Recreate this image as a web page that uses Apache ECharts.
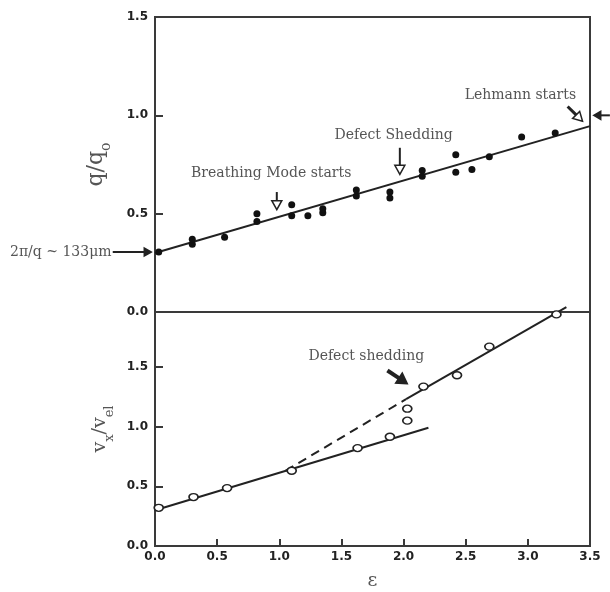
<!DOCTYPE html>
<html>
<head>
<meta charset="utf-8">
<script src="https://cdn.jsdelivr.net/npm/echarts@6/dist/echarts.min.js"></script>
<style>html,body{margin:0;padding:0;background:#fff;}#c{width:610px;height:592px;}</style>
</head>
<body>
<div id="c"></div>
<script>
// ---- data ----
const qEps  = [0.03, 0.30, 0.30, 0.56, 0.82, 0.82, 1.10, 1.10, 1.23, 1.35, 1.35, 1.62, 1.62, 1.89, 1.89, 2.15, 2.15, 2.42, 2.42, 2.55, 2.69, 2.95, 3.22];
const qVals = [0.305, 0.345, 0.37, 0.38, 0.46, 0.50, 0.49, 0.545, 0.49, 0.505, 0.525, 0.59, 0.62, 0.58, 0.61, 0.69, 0.72, 0.71, 0.80, 0.725, 0.79, 0.89, 0.91];
const qFitEps  = [0.0, 3.5];
const qFitVals = [0.30, 0.945];

const vEps  = [0.03, 0.31, 0.58, 1.10, 1.63, 1.89, 2.03, 2.03, 2.16, 2.43, 2.69, 3.23];
const vVals = [0.32, 0.41, 0.485, 0.63, 0.82, 0.915, 1.05, 1.15, 1.335, 1.43, 1.67, 1.94];
const vLowEps   = [0.0, 2.2];
const vLowVals  = [0.30, 0.99];
const vDashEps  = [1.05, 2.02];
const vDashVals = [0.63, 1.23];
const vHighEps  = [2.02, 3.31];
const vHighVals = [1.23, 2.0];

const xTicks = [0, 0.5, 1.0, 1.5, 2.0, 2.5, 3.0, 3.5];
const yTicksTop = [0, 0.5, 1.0, 1.5];
const yTicksBottom = [0, 0.5, 1.0, 1.5];

const zip = (a, b) => a.map((v, i) => [v, b[i]]);

const AX = '#3a3a3a';
const TXT = '#555';
const SERIF = '"DejaVu Serif", "Liberation Serif", serif';
const tickLabel = {color: '#222', fontFamily: '"DejaVu Sans", sans-serif', fontWeight: 'bold', fontSize: 12};

function onTicks(list) {
  return v => list.some(t => Math.abs(t - v) < 1e-6) ? v.toFixed(1) : '';
}

const chart = echarts.init(document.getElementById('c'), null, {renderer: 'canvas'});

const option = {
  animation: false,
  backgroundColor: '#fff',
  grid: [
    {left: 155, right: 20, top: 17, height: 295, show: true, borderColor: AX, borderWidth: 2},
    {left: 155, right: 20, top: 312, height: 235, show: true, borderColor: AX, borderWidth: 2}
  ],
  xAxis: [
    {gridIndex: 0, type: 'value', min: xTicks[0], max: xTicks[xTicks.length - 1], interval: 0.5,
     axisLine: {show: true, lineStyle: {color: AX, width: 2}}, axisTick: {show: false},
     axisLabel: {show: false}, splitLine: {show: false}},
    {gridIndex: 1, type: 'value', min: xTicks[0], max: xTicks[xTicks.length - 1], interval: 0.5,
     axisLine: {show: true, onZero: false, lineStyle: {color: AX, width: 2}},
     axisTick: {show: true, inside: true, length: 7, lineStyle: {color: AX, width: 2}},
     axisLabel: Object.assign({margin: 5, formatter: onTicks(xTicks)}, tickLabel),
     splitLine: {show: false},
     name: 'ε', nameLocation: 'middle', nameGap: 26,
     nameTextStyle: {fontFamily: SERIF, fontSize: 19, color: TXT}}
  ],
  yAxis: [
    {gridIndex: 0, type: 'value', min: 0, max: 1.5, interval: 0.5,
     axisLine: {show: true, onZero: false, lineStyle: {color: AX, width: 2}},
     axisTick: {show: true, inside: true, length: 8, lineStyle: {color: AX, width: 2}},
     axisLabel: Object.assign({margin: 7, formatter: onTicks(yTicksTop)}, tickLabel),
     splitLine: {show: false},
     name: '{a|q/q}{b|o}', nameLocation: 'middle', nameRotate: 90, nameGap: 48,
     nameTextStyle: {color: TXT, rich: {
       a: {fontFamily: SERIF, fontSize: 22, color: TXT, lineHeight: 26, verticalAlign: 'bottom'},
       b: {fontFamily: SERIF, fontSize: 14, color: TXT, verticalAlign: 'bottom', padding: [0, 0, -6, 0]}
     }}},
    {gridIndex: 1, type: 'value', min: 0, max: 1.96, interval: 0.5,
     axisLine: {show: true, onZero: false, lineStyle: {color: AX, width: 2}},
     axisTick: {show: true, inside: true, length: 8, lineStyle: {color: AX, width: 2}},
     axisLabel: Object.assign({margin: 7, showMaxLabel: false, formatter: onTicks(yTicksBottom)}, tickLabel),
     splitLine: {show: false},
     name: '{a|v}{b|x}{a|/v}{b|el}', nameLocation: 'middle', nameRotate: 90, nameGap: 38,
     nameTextStyle: {color: TXT, rich: {
       a: {fontFamily: SERIF, fontSize: 19, color: TXT, lineHeight: 24, verticalAlign: 'bottom'},
       b: {fontFamily: SERIF, fontSize: 13, color: TXT, verticalAlign: 'bottom', padding: [0, 0, -6, 0]}
     }}}
  ],
  series: [
    {type: 'line', xAxisIndex: 0, yAxisIndex: 0, data: zip(qFitEps, qFitVals), symbol: 'none',
     lineStyle: {color: '#222', width: 2}, z: 2},
    {type: 'scatter', xAxisIndex: 0, yAxisIndex: 0, data: zip(qEps, qVals), symbol: 'circle', symbolSize: 7,
     itemStyle: {color: '#111', opacity: 1}, z: 3},
    {type: 'line', xAxisIndex: 1, yAxisIndex: 1, data: zip(vLowEps, vLowVals), symbol: 'none',
     lineStyle: {color: '#222', width: 2}, z: 2},
    {type: 'line', xAxisIndex: 1, yAxisIndex: 1, data: zip(vDashEps, vDashVals), symbol: 'none',
     lineStyle: {color: '#222', width: 2, type: [9, 6]}, z: 2},
    {type: 'line', xAxisIndex: 1, yAxisIndex: 1, data: zip(vHighEps, vHighVals), symbol: 'none', clip: false,
     lineStyle: {color: '#222', width: 2}, z: 2},
    {type: 'scatter', xAxisIndex: 1, yAxisIndex: 1, data: zip(vEps, vVals), symbol: 'circle', symbolSize: [9, 7],
     itemStyle: {color: '#fff', borderColor: '#222', borderWidth: 1.5, opacity: 1}, z: 3}
  ]
};
chart.setOption(option);

// ---- annotations anchored in data coordinates ----
function P(gi, x, y) { return chart.convertToPixel({gridIndex: gi}, [x, y]); }

function arrow(p0, p1, o) {
  const dx = p1[0] - p0[0], dy = p1[1] - p0[1];
  const L = Math.sqrt(dx * dx + dy * dy);
  const ux = dx / L, uy = dy / L, nx = -uy, ny = ux;
  const hl = o.headLen, hw = o.headW;
  const bx = p1[0] - ux * hl, by = p1[1] - uy * hl;
  return {
    type: 'group', z: 50, children: [
      {type: 'line', shape: {x1: p0[0], y1: p0[1], x2: bx, y2: by},
       style: {stroke: o.color || '#222', lineWidth: o.lw || 2}},
      {type: 'polygon', shape: {points: [[p1[0], p1[1]], [bx + nx * hw, by + ny * hw], [bx - nx * hw, by - ny * hw]]},
       style: {fill: o.fill, stroke: o.color || '#222', lineWidth: o.hlw || 1.5}}
    ]
  };
}
function label(p, text, align) {
  return {type: 'text', x: p[0], y: p[1], z: 50,
    style: {text: text, font: '14px ' + SERIF, fill: TXT, align: align || 'center', verticalAlign: 'middle'}};
}

const g = [];
// top panel
g.push(label(P(0, 0.935, 0.707), 'Breathing Mode starts'));
g.push(arrow(P(0, 0.98, 0.61), P(0, 0.98, 0.52), {headLen: 9, headW: 5, fill: '#fff'}));
g.push(label(P(0, 1.92, 0.90), 'Defect Shedding'));
g.push(arrow(P(0, 1.97, 0.835), P(0, 1.97, 0.70), {headLen: 9, headW: 5, fill: '#fff'}));
g.push(label(P(0, 2.94, 1.10), 'Lehmann starts'));
g.push(arrow(P(0, 3.32, 1.045), P(0, 3.44, 0.97), {headLen: 9, headW: 5, fill: '#fff', lw: 3}));
g.push(label(P(0, -0.35, 0.305), '2π/q ~ 133μm', 'right'));
g.push(arrow(P(0, -0.34, 0.305), P(0, -0.03, 0.305), {headLen: 7, headW: 4, fill: '#222'}));
g.push(arrow(P(0, 3.66, 1.0), P(0, 3.53, 1.0), {headLen: 7, headW: 4, fill: '#222'}));
// bottom panel
g.push(label(P(1, 1.70, 1.59), 'Defect shedding'));
g.push(arrow(P(1, 1.87, 1.47), P(1, 2.03, 1.36), {headLen: 10, headW: 6, fill: '#222', lw: 4}));

chart.setOption({graphic: g});
</script>
</body>
</html>
